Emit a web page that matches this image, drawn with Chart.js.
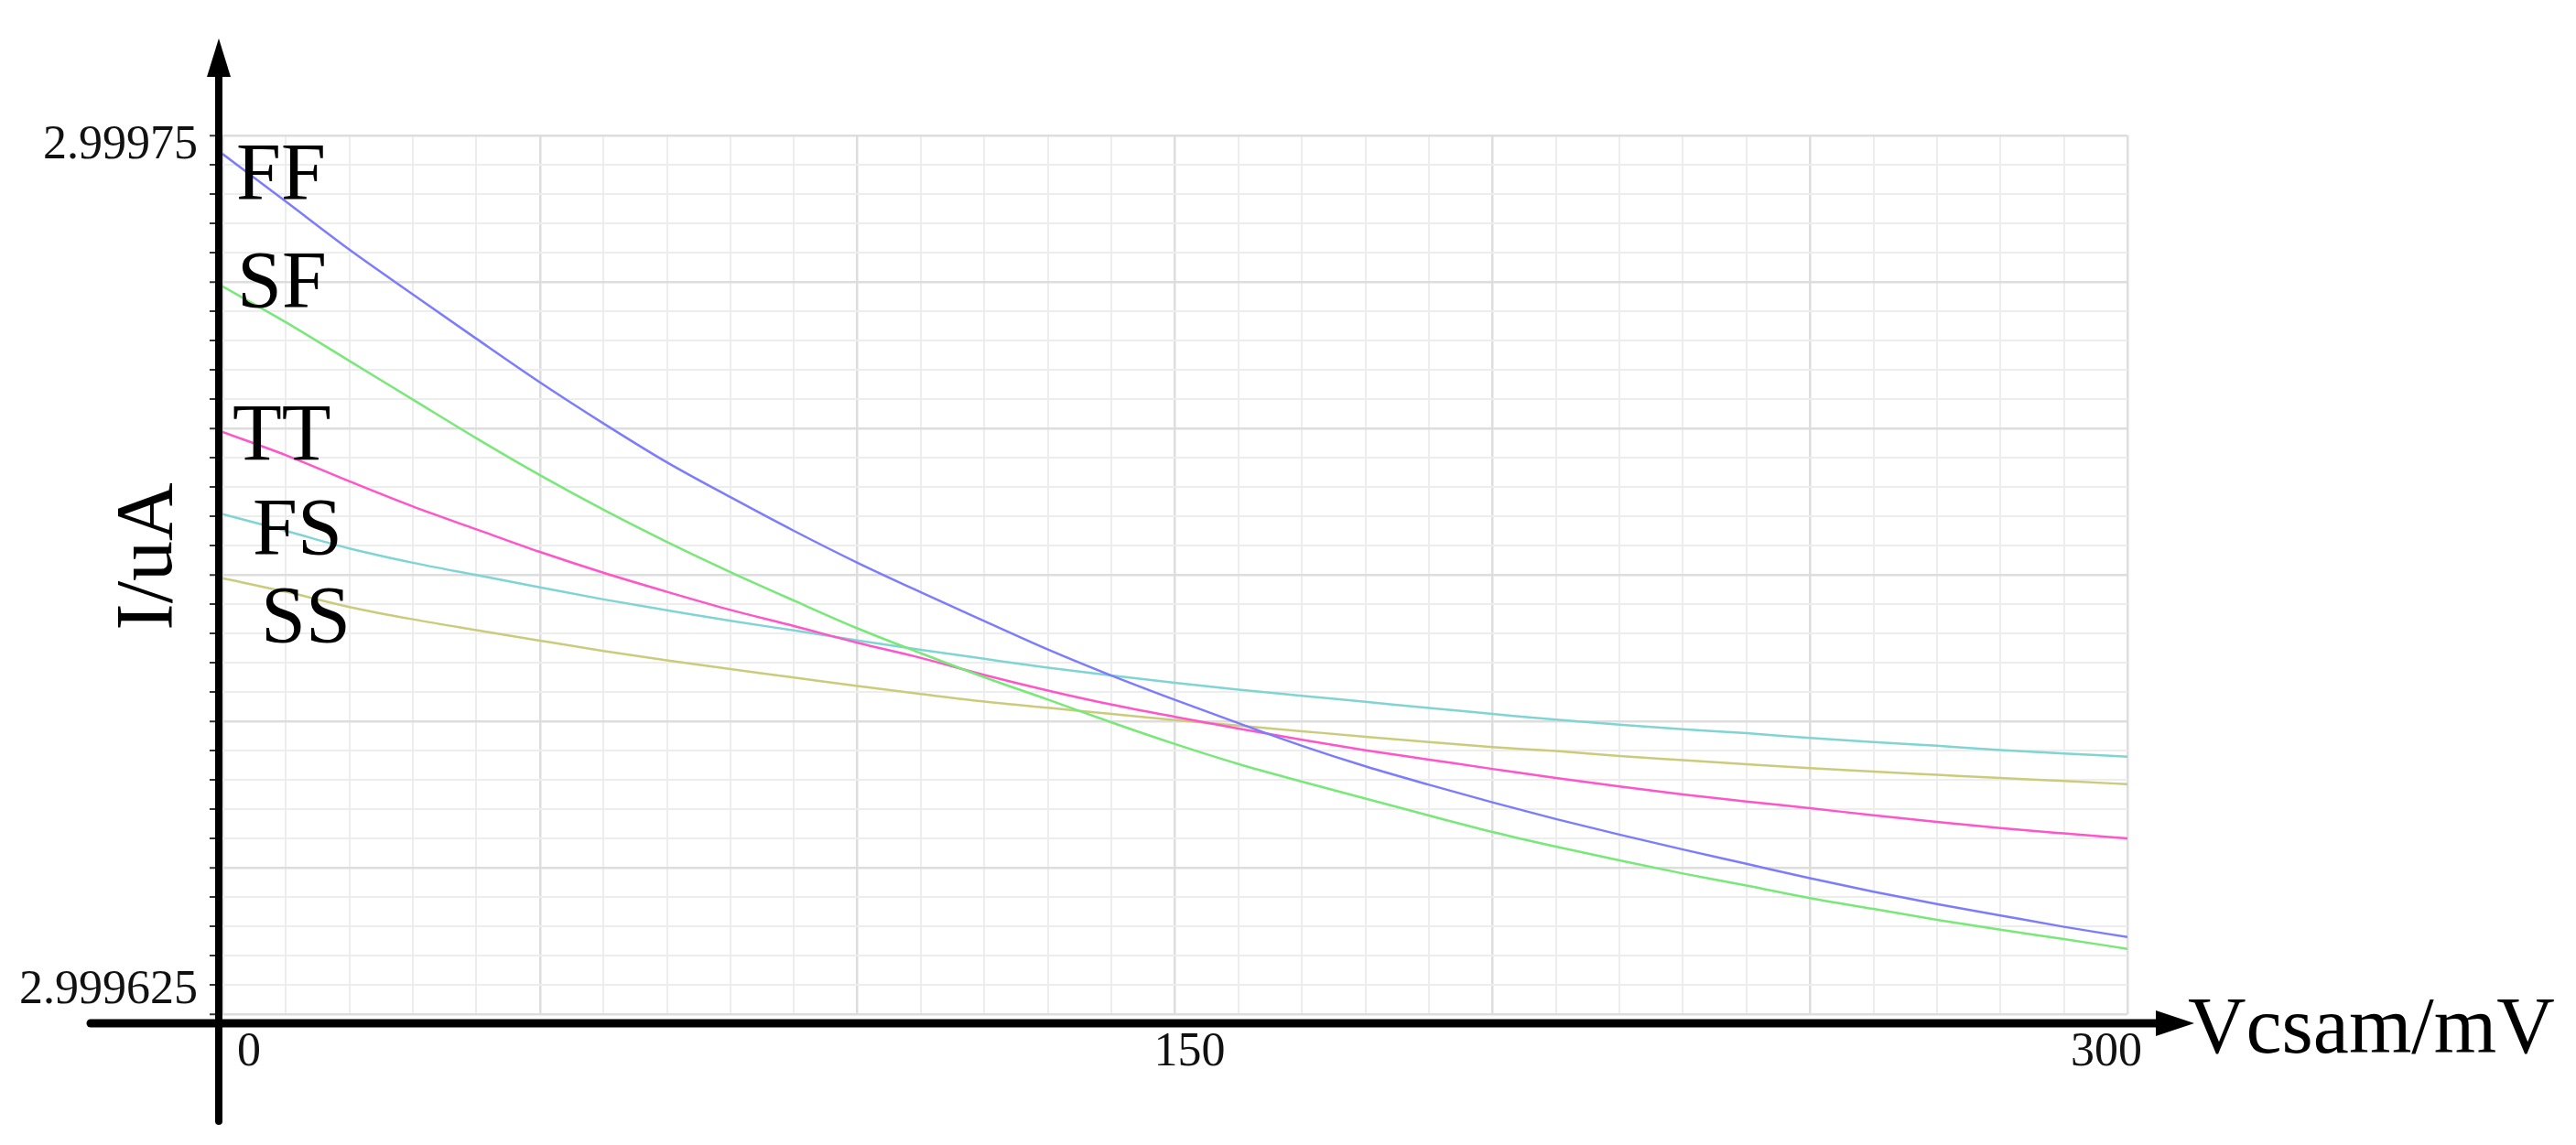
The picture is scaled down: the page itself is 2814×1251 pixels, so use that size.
<!DOCTYPE html>
<html>
<head>
<meta charset="utf-8">
<script src="https://cdn.jsdelivr.net/npm/chart.js@4.4.1/dist/chart.umd.min.js"></script>
<style>
  html, body { margin: 0; padding: 0; background: #ffffff; }
  #wrap { width: 2814px; height: 1251px; }
</style>
</head>
<body>
<div id="wrap"><canvas id="c" width="2814" height="1251"></canvas></div>
<script>
// ---- data ----
const vcsam = [0,10,20,30,40,50,60,70,80,90,100,110,120,130,140,150,160,170,180,190,200,210,220,230,240,250,260,270,280,290,300]; // mV

const seriesNames = ['FF', 'SF', 'TT', 'FS', 'SS'];

const iFF = [2.99974738,2.99974058,2.99973375,2.99972738,2.99972108,2.99971488,2.99970904,2.99970350,2.99969854,2.99969375,2.99968921,2.99968500,2.99968092,2.99967688,2.99967317,2.99966971,2.99966638,2.99966317,2.99966025,2.99965763,2.99965513,2.99965275,2.99965054,2.99964842,2.99964638,2.99964433,2.99964242,2.99964067,2.99963904,2.99963742,2.99963596];
const iSF = [2.99972854,2.99972342,2.99971792,2.99971242,2.99970692,2.99970167,2.99969675,2.99969217,2.99968788,2.99968383,2.99967988,2.99967633,2.99967292,2.99966975,2.99966650,2.99966342,2.99966058,2.99965808,2.99965567,2.99965325,2.99965092,2.99964883,2.99964688,2.99964500,2.99964329,2.99964150,2.99963996,2.99963842,2.99963700,2.99963567,2.99963429];
const iTT = [2.99970783,2.99970450,2.99970079,2.99969721,2.99969396,2.99969075,2.99968779,2.99968508,2.99968250,2.99968021,2.99967783,2.99967567,2.99967325,2.99967104,2.99966904,2.99966729,2.99966563,2.99966404,2.99966254,2.99966121,2.99965988,2.99965858,2.99965738,2.99965625,2.99965525,2.99965429,2.99965329,2.99965233,2.99965146,2.99965071,2.99965000];
const iFS = [2.99969613,2.99969375,2.99969125,2.99968921,2.99968746,2.99968571,2.99968400,2.99968246,2.99968096,2.99967958,2.99967817,2.99967683,2.99967554,2.99967429,2.99967317,2.99967213,2.99967117,2.99967029,2.99966942,2.99966854,2.99966771,2.99966688,2.99966617,2.99966554,2.99966496,2.99966429,2.99966371,2.99966317,2.99966258,2.99966208,2.99966163];
const iSS = [2.99968700,2.99968508,2.99968292,2.99968117,2.99967963,2.99967813,2.99967667,2.99967533,2.99967408,2.99967288,2.99967167,2.99967054,2.99966946,2.99966858,2.99966771,2.99966683,2.99966604,2.99966525,2.99966446,2.99966371,2.99966300,2.99966242,2.99966171,2.99966113,2.99966054,2.99966000,2.99965950,2.99965904,2.99965858,2.99965817,2.99965771];

const xTickValues = [0, 150, 300];
const xTickLabels = ['0', '150', '300'];
const yTickValues = [2.999625, 2.99975];
const yTickLabels = ['2.999625', '2.99975'];
const yMin = 2.999625, yMax = 2.99975;
const xMin = 0, xMax = 300;

// ---- styling ----
const SERIF = "'Liberation Serif', 'Times New Roman', serif";
const colors = ['#7c7cff', '#78e878', '#ff55c8', '#80d4d4', '#cbcb7c'];
const allSeries = [iFF, iSF, iTT, iFS, iSS];

const yStep = (yMax - yMin) / 30;

function gridColor(isMajor) { return isMajor ? '#dddddd' : '#ededed'; }

const decor = {
  id: 'decor',
  afterDraw(chart) {
    const { ctx, chartArea: a } = chart;
    ctx.save();
    ctx.fillStyle = '#000';
    ctx.strokeStyle = '#000';
    ctx.lineCap = 'round';
    // vertical axis with arrow
    const ax = a.left - 4;
    ctx.lineWidth = 8;
    ctx.beginPath(); ctx.moveTo(ax, 80); ctx.lineTo(ax, 1225); ctx.stroke();
    ctx.beginPath(); ctx.moveTo(ax, 42); ctx.lineTo(ax - 13, 84); ctx.lineTo(ax + 13, 84); ctx.closePath(); ctx.fill();
    // horizontal axis with arrow
    const ay = a.bottom + 10;
    ctx.lineWidth = 9;
    ctx.beginPath(); ctx.moveTo(99, ay); ctx.lineTo(2360, ay); ctx.stroke();
    ctx.beginPath(); ctx.moveTo(2397, ay); ctx.lineTo(2355, ay - 14); ctx.lineTo(2355, ay + 14); ctx.closePath(); ctx.fill();

    // axis titles
    ctx.font = '88px ' + SERIF;
    ctx.textBaseline = 'alphabetic';
    ctx.textAlign = 'left';
    ctx.fillText('Vcsam/mV', 2390, 1150);
    ctx.save();
    ctx.translate(160, 608);
    ctx.rotate(-Math.PI / 2);
    ctx.textAlign = 'center';
    ctx.textBaseline = 'middle';
    ctx.fillText('I/uA', 0, 4);
    ctx.restore();

    // series names at the start of each curve
    const namePos = [[258, 217], [259, 335], [254, 502], [276, 605], [285, 701]];
    ctx.textAlign = 'left';
    ctx.textBaseline = 'alphabetic';
    chart.data.datasets.forEach((ds, i) => {
      ctx.fillText(ds.label, namePos[i][0], namePos[i][1]);
    });
    ctx.restore();
  }
};

new Chart(document.getElementById('c'), {
  type: 'line',
  data: {
    datasets: seriesNames.map((name, i) => ({
      label: name,
      data: vcsam.map((x, j) => ({ x: x, y: allSeries[i][j] })),
      borderColor: colors[i],
      borderWidth: 2.5,
      pointRadius: 0,
      fill: false,
      cubicInterpolationMode: 'monotone'
    }))
  },
  options: {
    responsive: false,
    devicePixelRatio: 1,
    animation: false,
    layout: { padding: { left: 0, right: 490, top: 148, bottom: 0 } },
    plugins: { legend: { display: false }, tooltip: { enabled: false }, title: { display: false } },
    scales: {
      x: {
        type: 'linear',
        min: xMin, max: xMax,
        afterFit: (s) => { s.height = 143; },
        border: { display: false },
        grid: {
          drawTicks: false,
          lineWidth: (c) => (Math.round(c.tick.value / 10) % 5 === 0 ? 2.5 : 2),
          color: (c) => gridColor(Math.round(c.tick.value / 10) % 5 === 0)
        },
        ticks: {
          stepSize: 10,
          autoSkip: false,
          maxRotation: 0,
          align: 'inner',
          labelOffset: 16,
          padding: 11,
          color: '#111',
          font: { family: SERIF, size: 52 },
          callback: (v) => {
            const k = xTickValues.findIndex(t => Math.abs(t - v) < 1e-6);
            return k >= 0 ? xTickLabels[k] : '';
          }
        }
      },
      y: {
        type: 'linear',
        min: yMin, max: yMax,
        afterFit: (s) => { s.width = 243; },
        border: { display: false },
        grid: {
          drawTicks: true,
          tickLength: 14,
          tickColor: '#333',
          tickWidth: 2,
          lineWidth: (c) => (Math.round((c.tick.value - yMin) / yStep) % 5 === 0 ? 2.5 : 2),
          color: (c) => gridColor(Math.round((c.tick.value - yMin) / yStep) % 5 === 0)
        },
        ticks: {
          count: 31,
          autoSkip: false,
          padding: 13,
          labelOffset: -7,
          color: '#111',
          font: { family: SERIF, size: 52, lineHeight: 0.7 },
          callback: (v) => {
            const k = yTickValues.findIndex(t => Math.abs(t - v) < yStep / 4);
            if (k < 0) return '';
            // bottom label sits above its line, top label sits below its line
            return k === 0 ? [yTickLabels[k], ''] : ['', yTickLabels[k]];
          }
        }
      }
    }
  },
  plugins: [decor]
});
</script>
</body>
</html>
